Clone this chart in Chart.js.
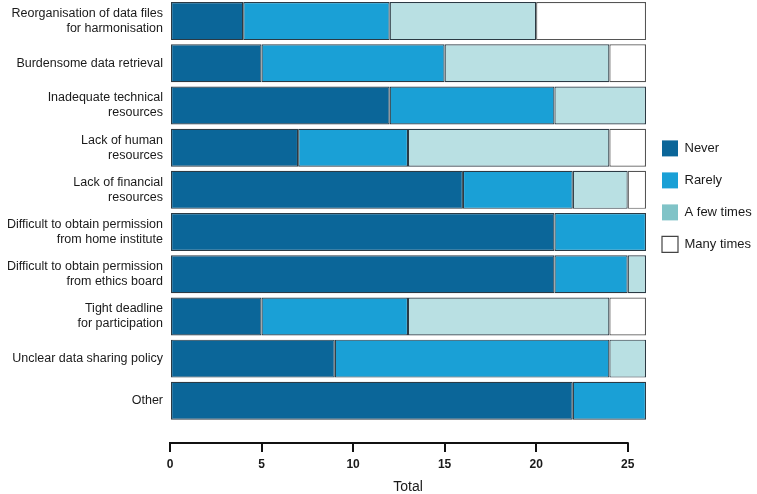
<!DOCTYPE html>
<html>
<head>
<meta charset="utf-8">
<script src="https://cdn.jsdelivr.net/npm/chart.js@4"></script>
<style>
  html, body { margin: 0; padding: 0; background: #ffffff; }
  #wrap { width: 757px; height: 494px; position: relative; }
</style>
</head>
<body>
<div id="wrap"><canvas id="c" width="757" height="494"></canvas></div>
<script>
// ---- data ----
const categories = [
  ["Reorganisation of data files", "for harmonisation"],
  ["Burdensome data retrieval"],
  ["Inadequate technical", "resources"],
  ["Lack of human", "resources"],
  ["Lack of financial", "resources"],
  ["Difficult to obtain permission", "from home institute"],
  ["Difficult to obtain permission", "from ethics board"],
  ["Tight deadline", "for participation"],
  ["Unclear data sharing policy"],
  ["Other"]
];
const seriesNames = ["Never", "Rarely", "A few times", "Many times"];
const never      = [4, 5, 12, 7, 16, 21, 21, 5, 9, 22];
const rarely     = [8, 10, 9, 6, 6, 5, 4, 8, 15, 4];
const fewTimes   = [8, 9, 5, 11, 3, 0, 1, 11, 2, 0];
const manyTimes  = [6, 2, 0, 2, 1, 0, 0, 2, 0, 0];
const xTicks     = [0, 5, 10, 15, 20, 25];
const xMax       = 26;

// ---- styles ----
const fills  = ["#0b6699", "#1aa0d6", "#b9e0e3", "#ffffff"];
const swatch = ["#0b6699", "#1aa0d6", "#80c3c7", "#ffffff"];
const FONT = "'Liberation Sans', Arial, sans-serif";
const Y_MIN = -0.5, Y_MAX = 10;

const seriesValues = [never, rarely, fewTimes, manyTimes];
const datasets = seriesValues.map((vals, s) => ({
  label: seriesNames[s],
  data: vals.map((v, i) => ({ x: v, y: i })),
  backgroundColor: fills[s],
  borderColor: s === 3 ? "#555555" : "#2b3a44",
  borderWidth: 1.2,
  borderSkipped: false,
  barPercentage: 0.9,
  categoryPercentage: 1.0
}));

const axisLine = {
  id: "axisLine",
  afterDraw(chart) {
    const xs = chart.scales.x;
    const ctx = chart.ctx;
    const y = chart.chartArea.bottom;
    ctx.save();
    ctx.strokeStyle = "#111111";
    ctx.lineWidth = 2;
    ctx.beginPath();
    ctx.moveTo(xs.getPixelForValue(xTicks[0]) - 1, y);
    ctx.lineTo(xs.getPixelForValue(xTicks[xTicks.length - 1]) + 1, y);
    ctx.stroke();
    ctx.restore();
  }
};

new Chart(document.getElementById("c"), {
  type: "bar",
  data: { datasets },
  plugins: [axisLine],
  options: {
    indexAxis: "y",
    responsive: false,
    animation: false,
    layout: { padding: { top: 0, right: 0, bottom: 0, left: 0 } },
    scales: {
      x: {
        type: "linear",
        stacked: true,
        min: 0,
        max: xMax,
        afterBuildTicks(scale) { scale.ticks = xTicks.map(v => ({ value: v })); },
        afterFit(scale) { scale.height = 51; },
        grid: { display: true, drawOnChartArea: false, drawTicks: true, tickLength: 9, lineWidth: 2, color: "#111111", tickColor: "#111111" },
        border: { display: false },
        ticks: { color: "#1a1a1a", font: { family: FONT, size: 12, weight: "bold" }, padding: 5, maxRotation: 0 },
        title: { display: true, text: "Total", color: "#1a1a1a", font: { family: FONT, size: 14, lineHeight: 1.0 }, padding: { top: 4, bottom: 0 } }
      },
      y: {
        type: "linear",
        stacked: true,
        reverse: true,
        offset: false,
        bounds: "data",
        min: Y_MIN,
        max: Y_MAX,
        afterDataLimits(scale) { scale.min = Y_MIN; scale.max = Y_MAX; },
        afterBuildTicks(scale) {
          scale.ticks = categories.map((c, i) => ({ value: i }));
          scale.min = Y_MIN; scale.max = Y_MAX;
        },
        afterFit(scale) { scale.width = 170; scale.paddingTop = 0; scale.paddingBottom = 0; },
        ticks: {
          callback: (v) => categories[v],
          color: "#1a1a1a",
          font: { family: FONT, size: 12.5, lineHeight: 1.2 },
          padding: 7
        },
        grid: { display: false, drawTicks: false, offset: false },
        border: { display: false }
      }
    },
    plugins: {
      legend: {
        position: "right",
        align: "start",
        maxWidth: 111,
        title: { display: true, text: "", padding: { top: 110, bottom: 0 }, font: { size: 12 } },
        labels: {
          boxWidth: 16,
          boxHeight: 16,
          padding: 16,
          color: "#1a1a1a",
          font: { family: FONT, size: 13 },
          generateLabels(chart) {
            return chart.data.datasets.map((ds, i) => ({
              text: ds.label,
              fillStyle: swatch[i],
              strokeStyle: i === 3 ? "#444444" : swatch[i],
              lineWidth: i === 3 ? 1.2 : 0,
              hidden: !chart.isDatasetVisible(i),
              datasetIndex: i,
              fontColor: "#1a1a1a"
            }));
          }
        }
      },
      tooltip: { enabled: false }
    }
  }
});
</script>
</body>
</html>
